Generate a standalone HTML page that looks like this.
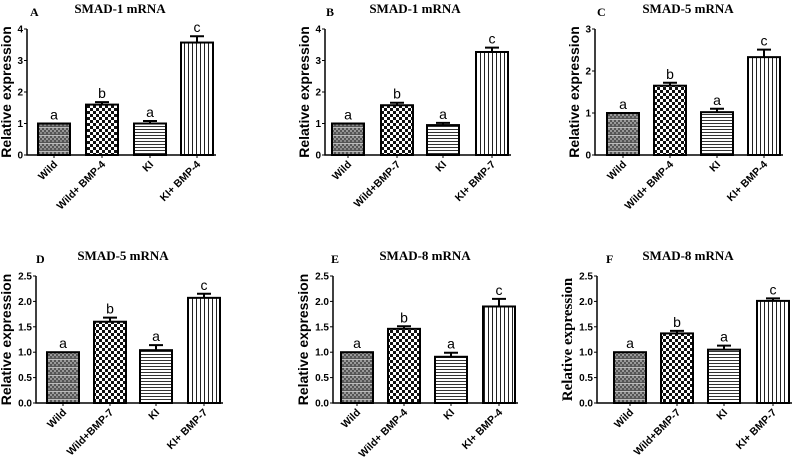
<!DOCTYPE html>
<html><head><meta charset="utf-8"><style>
html,body{margin:0;padding:0;background:#fff;}
svg{display:block;}
</style></head><body>
<svg id="fig" width="800" height="470" viewBox="0 0 800 470" xmlns="http://www.w3.org/2000/svg">
<defs>
<pattern id="pWild" width="4" height="8" patternUnits="userSpaceOnUse">
<rect width="4" height="8" fill="#555"/><rect x="0" y="0" width="2" height="2" fill="#999"/><rect x="2" y="2" width="2" height="2" fill="#999"/><rect x="0" y="4" width="2" height="2" fill="#888"/><rect y="7" width="4" height="1" fill="#bbb"/>
</pattern>
<pattern id="pCheck" width="6" height="6" patternUnits="userSpaceOnUse">
<rect width="6" height="6" fill="#fff"/><rect width="3" height="3" fill="#111"/><rect x="3" y="3" width="3" height="3" fill="#111"/>
</pattern>
<pattern id="pHoriz" width="4" height="3" patternUnits="userSpaceOnUse">
<rect width="4" height="3" fill="#fff"/><rect width="4" height="1" fill="#333"/>
</pattern>
<pattern id="pVert" width="4" height="4" patternUnits="userSpaceOnUse">
<rect width="4" height="4" fill="#fff"/><rect width="1" height="4" fill="#222"/>
</pattern>
</defs>
</svg>
<script>
// Panel data
const panelLetters = ["A","B","C","D","E","F"];
const panelTitles = ["SMAD-1 mRNA","SMAD-1 mRNA","SMAD-5 mRNA","SMAD-5 mRNA","SMAD-8 mRNA","SMAD-8 mRNA"];
const catsA = ["Wild","Wild+ BMP-4","KI","KI+ BMP-4"];
const catsB = ["Wild","Wild+BMP-7","KI","KI+ BMP-7"];
const catsC = ["Wild","Wild+ BMP-4","KI","KI+ BMP-4"];
const catsD = ["Wild","Wild+BMP-7","KI","KI+ BMP-7"];
const catsE = ["Wild","Wild+ BMP-4","KI","KI+ BMP-4"];
const catsF = ["Wild","Wild+BMP-7","KI","KI+ BMP-7"];
const valsA = [1.0, 1.6, 1.0, 3.57];
const valsB = [1.0, 1.58, 0.95, 3.27];
const valsC = [1.0, 1.65, 1.02, 2.33];
const valsD = [1.0, 1.6, 1.04, 2.07];
const valsE = [1.0, 1.46, 0.91, 1.9];
const valsF = [1.0, 1.37, 1.05, 2.01];
const errsA = [0, 0.08, 0.08, 0.2];
const errsB = [0, 0.08, 0.07, 0.14];
const errsC = [0, 0.07, 0.08, 0.18];
const errsD = [0, 0.08, 0.1, 0.08];
const errsE = [0, 0.05, 0.08, 0.15];
const errsF = [0, 0.05, 0.08, 0.05];
const sigLetters = ["a","b","a","c"];
const ticks4 = ["0","1","2","3","4"];
const ticks3 = ["0","1","2","3"];
const ticks25 = ["0.0","0.5","1.0","1.5","2.0","2.5"];

const layout = [
 {ax:27, y0:155, yt:29, max:4, step:1, ticks:ticks4, bx:[38,86,134,181], tx:120, lx:30, cats:catsA, vals:valsA, errs:errsA, serif:false},
 {ax:325, y0:155, yt:29, max:4, step:1, ticks:ticks4, bx:[332,381,427,476], tx:415, lx:326, cats:catsB, vals:valsB, errs:errsB, serif:false},
 {ax:595, y0:155, yt:29, max:3, step:1, ticks:ticks3, bx:[607,654,701,748], tx:688, lx:597, cats:catsC, vals:valsC, errs:errsC, serif:false},
 {ax:36, y0:403, yt:276, max:2.5, step:0.5, ticks:ticks25, bx:[47,94,140,188], tx:123, lx:36, cats:catsD, vals:valsD, errs:errsD, serif:false},
 {ax:333, y0:403, yt:276, max:2.5, step:0.5, ticks:ticks25, bx:[341,388,435,483], tx:425, lx:331, cats:catsE, vals:valsE, errs:errsE, serif:false},
 {ax:597, y0:403, yt:276, max:2.5, step:0.5, ticks:ticks25, bx:[614,661,708,757], tx:688, lx:606, cats:catsF, vals:valsF, errs:errsF, serif:true}
];
const fills = ["url(#pWild)","url(#pCheck)","url(#pHoriz)","url(#pVert)"];
const svg = document.getElementById('fig');
const NS = "http://www.w3.org/2000/svg";
function mk(tag, attrs, parent){const e=document.createElementNS(NS,tag);for(const k in attrs)e.setAttribute(k,attrs[k]);(parent||svg).appendChild(e);return e;}

layout.forEach((p,pi)=>{
  const g = mk('g',{});
  
  
  const y = v => p.y0 - (v/p.max)*(p.y0-p.yt);
  const bw = 32;
  const xEnd = p.bx[3] + bw + 3;
  const title = mk('text',{x:p.tx, y:p.yt-16, 'text-anchor':'middle', 'font-family':'Liberation Serif, serif', 'font-weight':'bold', 'font-size':'13'}, g);
  title.textContent = panelTitles[pi];
  
  
  const lt = mk('text',{x:p.lx, y:p.yt-13, 'font-family':'Liberation Serif, serif', 'font-weight':'bold', 'font-size':'12'}, g);
  lt.textContent = panelLetters[pi];
  
  
  const ylx = p.ax - (p.max===2.5?25:16);
  const yl = mk('text',{x:ylx, y:(p.y0+p.yt)/2, transform:`rotate(-90 ${ylx} ${(p.y0+p.yt)/2})`, 'text-anchor':'middle', 'font-family': p.serif?'Liberation Serif, serif':'Liberation Sans, sans-serif', 'font-weight':'bold', 'font-size': p.serif?'15':'14'}, g);
  yl.textContent = "Relative expression";
  
  
  p.vals.forEach((v,i)=>{
    const x = p.bx[i], top = y(v);
    const r = mk('rect',{x:x, y:top, width:bw, height:p.y0-top, fill:fills[i], stroke:'#000', 'stroke-width':'2'}, g);
    
    
    const cx = x + bw/2;
    let topE = top;
    if(p.errs[i]>0){
      topE = y(v + p.errs[i]);
      const el = mk('path',{d:`M${cx} ${top} V${topE} M${cx-7} ${topE} H${cx+7}`, stroke:'#000', 'stroke-width':'2', fill:'none'}, g);
      
      
    }
    const s = mk('text',{x:cx, y:topE-4, 'text-anchor':'middle', 'font-family':'Liberation Sans, sans-serif', 'font-size':'14'}, g);
    s.textContent = sigLetters[i];
    
    
    const tk = mk('line',{x1:cx, y1:p.y0, x2:cx, y2:p.y0+3, stroke:'#000', 'stroke-width':'1'}, g);
    
    
    const lx = cx+4, ly = p.y0+10;
    const xl = mk('text',{x:lx, y:ly, transform:`rotate(-45 ${lx} ${ly})`, 'text-anchor':'end', 'font-family':'Liberation Sans, sans-serif', 'font-weight':'bold', 'font-size':'10.5'}, g);
    xl.textContent = p.cats[i];
    
    
  });
  const axes = mk('path',{d:`M${p.ax} ${p.yt} V${p.y0} H${xEnd}`, stroke:'#000', 'stroke-width':'1.5', fill:'none'}, g);
  
  
  p.ticks.forEach((t,i)=>{
    const ty = y(i*p.step);
    const tl = mk('line',{x1:p.ax-3, y1:ty, x2:p.ax, y2:ty, stroke:'#000', 'stroke-width':'1'}, g);
    
    
    const tt = mk('text',{x:p.ax-4, y:ty+3.5, 'text-anchor':'end', 'font-family':'Liberation Sans, sans-serif', 'font-weight':'bold', 'font-size':'10'}, g);
    tt.textContent = t;
    
    
  });
});
</script>
</body></html>
